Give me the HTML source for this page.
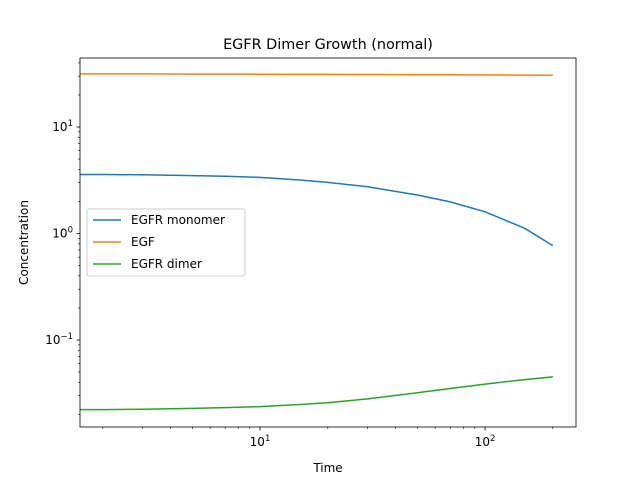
<!DOCTYPE html>
<html><head><meta charset="utf-8"><style>body{margin:0;background:#fff}svg{display:block;font-family:"DejaVu Sans","Liberation Sans",sans-serif}</style></head>
<body>
<svg id="c" width="640" height="480" viewBox="0 0 640 480">
<rect width="640" height="480" fill="#fff"/>
<text x="328" y="49" font-size="14.4" text-anchor="middle">EGFR Dimer Growth (normal)</text>
<g id="plot"></g>
<rect x="80" y="58" width="496" height="369" fill="none" stroke="#000" stroke-width="0.8"/>
<text x="328" y="472" font-size="12" text-anchor="middle">Time</text>
<text transform="translate(28,242.5) rotate(-90)" font-size="12" text-anchor="middle">Concentration</text>
<g>
<rect x="87" y="209" width="158" height="67" rx="2" fill="#fff" fill-opacity="0.8" stroke="#ccc"/>
<line x1="93" y1="220" x2="121" y2="220" stroke="#1f77b4" stroke-width="1.5"/>
<text x="131" y="224" font-size="12">EGFR monomer</text>
<line x1="93" y1="242" x2="121" y2="242" stroke="#ff7f0e" stroke-width="1.5"/>
<text x="131" y="246" font-size="12">EGF</text>
<line x1="93" y1="264" x2="121" y2="264" stroke="#2ca02c" stroke-width="1.5"/>
<text x="131" y="268" font-size="12">EGFR dimer</text>
</g>
</svg>
<script>
const times=[1.58,2,3,5,7,10,15,20,30,50,70,100,150,200];
const monomer=[3.58,3.58,3.56,3.50,3.45,3.36,3.18,3.02,2.75,2.30,1.98,1.60,1.12,0.77];
const egf=[31.5,31.5,31.5,31.4,31.4,31.3,31.2,31.2,31.1,31.0,30.9,30.8,30.7,30.6];
const dimer=[0.0222,0.0222,0.0224,0.0228,0.0232,0.0237,0.0248,0.0258,0.0280,0.0320,0.0350,0.0385,0.0425,0.0450];
const xTicks=[10,100];
const yTicks=[0.1,1,10];
const X0=80,X1=576,Y0=58,Y1=427;
const lxmin=0.2,lxmax=2.404,lymin=-1.817,lymax=1.648;
const sx=v=>X0+(Math.log10(v)-lxmin)/(lxmax-lxmin)*(X1-X0);
const sy=v=>Y1-(Math.log10(v)-lymin)/(lymax-lymin)*(Y1-Y0);
const NS="http://www.w3.org/2000/svg";
const g=document.getElementById('plot');
function mk(t,a){const e=document.createElementNS(NS,t);for(const k in a)e.setAttribute(k,a[k]);g.appendChild(e);return e;}
for(let d=0;d<=2;d++)for(let m=2;m<=9;m++){const v=m*Math.pow(10,d);const x=sx(v);if(x>X0&&x<X1){const t=mk('line',{x1:x,x2:x,y1:Y1,y2:Y1+2,stroke:'#000','stroke-width':0.6});}}
for(let d=-2;d<=1;d++)for(let m=2;m<=9;m++){const v=m*Math.pow(10,d);const y=sy(v);if(y>Y0&&y<Y1){const t=mk('line',{x1:X0,x2:X0-2,y1:y,y2:y,stroke:'#000','stroke-width':0.6});}}
xTicks.forEach(v=>{const x=sx(v);const t=mk('line',{x1:x,x2:x,y1:Y1,y2:Y1+3.5,stroke:'#000','stroke-width':0.8});
const l=mk('text',{x:x,y:Y1+19,'font-size':12,'text-anchor':'middle'});l.innerHTML='10<tspan dy="-5" font-size="8.5">'+Math.round(Math.log10(v))+'</tspan>';});
yTicks.forEach(v=>{const y=sy(v);const t=mk('line',{x1:X0,x2:X0-3.5,y1:y,y2:y,stroke:'#000','stroke-width':0.8});
const e=Math.round(Math.log10(v));const l=mk('text',{x:X0-7,y:y+4,'font-size':12,'text-anchor':'end'});l.innerHTML='10<tspan dy="-5" font-size="8.5">'+(e<0?'\u2212'+(-e):e)+'</tspan>';});
function series(vals,col,name){const pts=times.map((t,i)=>sx(t).toFixed(1)+','+sy(vals[i]).toFixed(1)).join(' ');const p=mk('polyline',{points:pts,fill:'none',stroke:col,'stroke-width':1.5,'stroke-linejoin':'round'});}
series(monomer,'#1f77b4','line-egfr-monomer');
series(egf,'#ff7f0e','line-egf');
series(dimer,'#2ca02c','line-egfr-dimer');
</script>
</body></html>
